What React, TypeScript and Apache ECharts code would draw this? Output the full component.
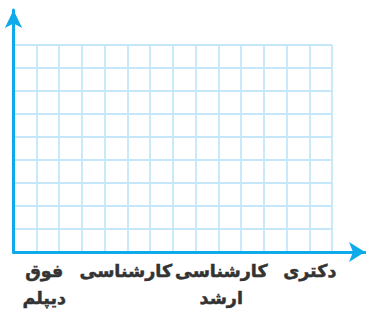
import React, { useEffect, useRef } from "react";
import * as echarts from "echarts";

const categories = ["فوق دیپلم", "کارشناسی", "کارشناسی ارشد", "دکتری"];
const gridColumns = 14;
const gridRows = 9;

export default function App() {
  const ref = useRef<HTMLDivElement>(null);
  useEffect(() => {
    if (!ref.current) return;
    const chart = echarts.init(ref.current, null, { renderer: "svg" });
    const gridColor = "#c4e8f9";
    const axisColor = "#0eaaea";
    const labelFont = {
      color: "#333333",
      fontFamily: "DejaVu Sans",
      fontWeight: "bold" as const,
      fontSize: 17.5,
      lineHeight: 27,
      textBorderColor: "#333333",
      textBorderWidth: 0.5,
    };
    chart.setOption({
      animation: false,
      backgroundColor: "#ffffff",
      grid: [
        { left: 13.5, right: 34, top: 45, bottom: 59 },
        { left: 13.5, right: 1, top: 10, bottom: 59 },
        { left: -7, right: 12, top: 45, bottom: 59 },
      ],
      xAxis: [
        {
          gridIndex: 0,
          type: "value",
          min: 0,
          max: gridColumns,
          interval: 1,
          axisLine: { show: false },
          axisTick: { show: false },
          axisLabel: { show: false },
          splitLine: { show: true, lineStyle: { color: gridColor, width: 1.8 } },
        },
        {
          gridIndex: 1,
          type: "value",
          min: 0,
          max: 1,
          axisLine: {
            show: true,
            lineStyle: { color: axisColor, width: 3 },
            symbol: ["none", "arrow"],
            symbolSize: [15, 16],
          },
          axisTick: { show: false },
          axisLabel: { show: false },
          splitLine: { show: false },
        },
        {
          gridIndex: 2,
          type: "category",
          data: categories,
          axisLine: { show: false },
          axisTick: { show: false },
          splitLine: { show: false },
          axisLabel: {
            show: true,
            interval: 0,
            margin: 6,
            ...labelFont,
            rich: {
              l: { ...labelFont, padding: [0, 14, 0, 0] },
            },
            formatter: (v: string, i: number) =>
              i === 1 ? `{l|${v}}` : v.replace(" ", "\n"),
          },
        },
      ],
      yAxis: [
        {
          gridIndex: 0,
          type: "value",
          min: 0,
          max: gridRows,
          interval: 1,
          axisLine: { show: false },
          axisTick: { show: false },
          axisLabel: { show: false },
          splitLine: { show: true, lineStyle: { color: gridColor, width: 1.8 } },
        },
        {
          gridIndex: 1,
          type: "value",
          min: 0,
          max: 1,
          axisLine: {
            show: true,
            lineStyle: { color: axisColor, width: 3 },
            symbol: ["none", "arrow"],
            symbolSize: [13, 18],
          },
          axisTick: { show: false },
          axisLabel: { show: false },
          splitLine: { show: false },
        },
        {
          gridIndex: 2,
          type: "value",
          show: false,
          min: 0,
          max: 1,
        },
      ],
      series: [],
    });
    return () => chart.dispose();
  }, []);
  return <div ref={ref} style={{ width: 366, height: 311, position: "absolute", left: 0, top: 0 }} />;
}
